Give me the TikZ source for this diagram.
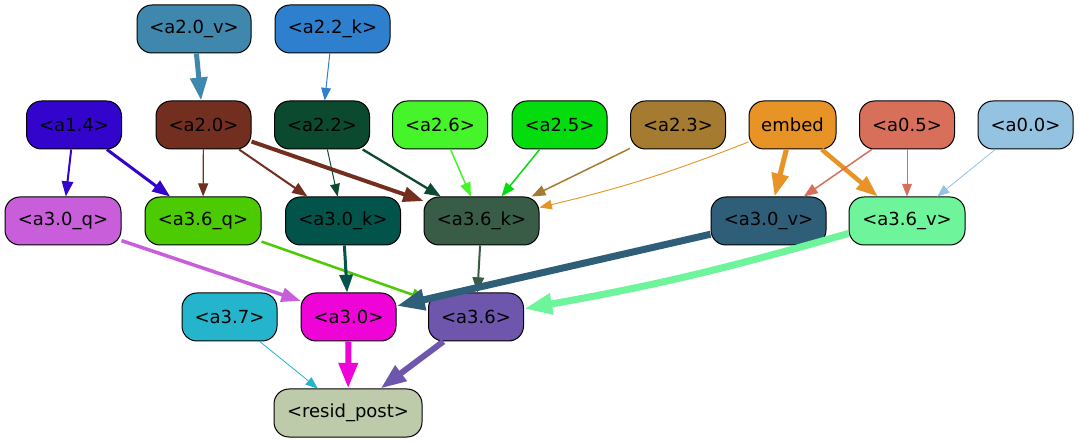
\documentclass[tikz,border=0pt]{standalone}
\usepackage{fontspec}
\setmainfont{DejaVu Sans}
\usetikzlibrary{arrows.meta}
\definecolor{c20v}{HTML}{3F87AC}
\definecolor{c22k}{HTML}{2E7FCD}
\definecolor{c14}{HTML}{3204CC}
\definecolor{c20}{HTML}{722F1F}
\definecolor{c22}{HTML}{0B4A2E}
\definecolor{c26}{HTML}{45F52A}
\definecolor{c25}{HTML}{04DC0E}
\definecolor{c23}{HTML}{A47B30}
\definecolor{cemb}{HTML}{E79325}
\definecolor{c05}{HTML}{D76F5A}
\definecolor{c00}{HTML}{94C3E2}
\definecolor{c30q}{HTML}{C95EDB}
\definecolor{c36q}{HTML}{4CCB02}
\definecolor{c30k}{HTML}{02544A}
\definecolor{c36k}{HTML}{385C46}
\definecolor{c30v}{HTML}{2F5E79}
\definecolor{c36v}{HTML}{6EF49A}
\definecolor{c37}{HTML}{24B5CD}
\definecolor{c30}{HTML}{EE04D6}
\definecolor{c36}{HTML}{6D56AB}
\definecolor{crp}{HTML}{BDCBAB}
\tikzset{
  box/.style={draw=black, line width=1pt, rounded corners=15pt, inner sep=0pt,
    minimum height=48pt, text=black, font=\fontsize{18}{21}\selectfont},
  ed/.style n args={2}{draw=#1, line width=#2pt,
    -{Triangle[length=10pt 2.6, width=8pt 1.7]}},
}
\begin{document}
\begin{tikzpicture}[x=1pt,y=-1pt]
\fill[white] (0,0) rectangle (1079,443);
\useasboundingbox (0,0) rectangle (1079,443);
% row 0
\node[box, fill=c20v, minimum width=114pt] (a20v) at (194,29) {<a2.0\_v>};
\node[box, fill=c22k, minimum width=115pt] (a22k) at (332.5,29) {<a2.2\_k>};
% row 1
\node[box, fill=c14, minimum width=95pt] (a14) at (74,125) {<a1.4>};
\node[box, fill=c20, minimum width=95pt] (a20) at (203.5,125) {<a2.0>};
\node[box, fill=c22, minimum width=95pt] (a22) at (322,125) {<a2.2>};
\node[box, fill=c26, minimum width=95pt] (a26) at (440,125) {<a2.6>};
\node[box, fill=c25, minimum width=95pt] (a25) at (559.5,125) {<a2.5>};
\node[box, fill=c23, minimum width=95pt] (a23) at (678,125) {<a2.3>};
\node[box, fill=cemb, minimum width=87pt] (emb) at (792.5,125) {embed};
\node[box, fill=c05, minimum width=95pt] (a05) at (907,125) {<a0.5>};
\node[box, fill=c00, minimum width=95pt] (a00) at (1025.5,125) {<a0.0>};
% row 2
\node[box, fill=c30q, minimum width=116pt] (a30q) at (63,221) {<a3.0\_q>};
\node[box, fill=c36q, minimum width=116pt] (a36q) at (203,221) {<a3.6\_q>};
\node[box, fill=c30k, minimum width=115pt] (a30k) at (343,221) {<a3.0\_k>};
\node[box, fill=c36k, minimum width=115pt] (a36k) at (481.5,221) {<a3.6\_k>};
\node[box, fill=c30v, minimum width=115pt] (a30v) at (768.5,221) {<a3.0\_v>};
\node[box, fill=c36v, minimum width=116pt] (a36v) at (907,221) {<a3.6\_v>};
% row 3
\node[box, fill=c37, minimum width=95pt] (a37) at (229.5,317) {<a3.7>};
\node[box, fill=c30, minimum width=95pt] (a30) at (348.5,317) {<a3.0>};
\node[box, fill=c36, minimum width=95pt] (a36) at (476,317) {<a3.6>};
% row 4
\node[box, fill=crp, minimum width=148pt] (rp) at (348,413) {<resid\_post>};
% edges
\draw[ed={c20v}{5}] (a20v) -- (a20);
\draw[ed={c22k}{1}] (a22k) -- (a22);
\draw[ed={c14}{2}] (a14) -- (a30q);
\draw[ed={c14}{3}] (a14) -- (a36q);
\draw[ed={c20}{1.2}] (a20) -- (a36q);
\draw[ed={c20}{2}] (a20) -- (a30k);
\draw[ed={c20}{4}] (a20) -- (a36k);
\draw[ed={c22}{1}] (a22) -- (a30k);
\draw[ed={c22}{2.3}] (a22) -- (a36k);
\draw[ed={c26}{1.5}] (a26) -- (a36k);
\draw[ed={c25}{1.5}] (a25) -- (a36k);
\draw[ed={c23}{1.5}] (a23) -- (a36k);
\draw[ed={cemb}{0.9}] (emb) to[bend left=4] (a36k);
\draw[ed={cemb}{5}] (emb) -- (a30v);
\draw[ed={cemb}{4.5}] (emb) -- (a36v);
\draw[ed={c05}{1.5}] (a05) -- (a30v);
\draw[ed={c05}{1}] (a05) -- (a36v);
\draw[ed={c00}{0.8}] (a00) -- (a36v);
\draw[ed={c30q}{3.5}] (a30q) -- (a30);
\draw[ed={c36q}{2.5}] (a36q) -- (a36);
\draw[ed={c30k}{3}] (a30k) -- (a30);
\draw[ed={c36k}{2}] (a36k) -- (a36);
\draw[ed={c30v}{7}] (a30v) -- (a30);
\draw[ed={c36v}{7}] (a36v.192) to[bend left=3] (a36);
\draw[ed={c37}{0.8}] (a37) -- (rp);
\draw[ed={c30}{6}] (a30) -- (rp);
\draw[ed={c36}{6}] (a36) -- (rp);
\end{tikzpicture}
\end{document}
